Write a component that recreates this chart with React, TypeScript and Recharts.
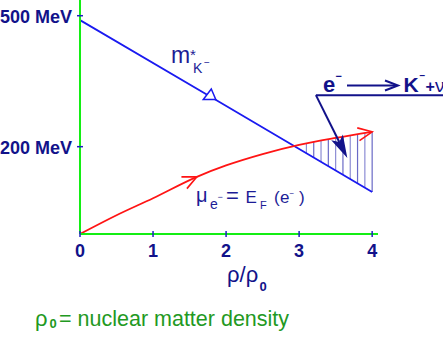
import { ComposedChart, Line, XAxis, YAxis, ReferenceLine, ReferenceDot } from 'recharts';

// density in units of rho_0
const densityX = [0, 0.5, 1, 1.6, 2, 2.5, 3, 3.5, 4];
const electronMu = [0, 43, 82, 131, 157, 183, 204, 220, 234];
const kaonX = [0, 1.77, 4];
const kaonMass = [490, 316, 96];

// hatched band between the two curves
const hatchX = [3.1, 3.2, 3.3, 3.4, 3.5, 3.6, 3.7, 3.8, 3.9, 4.0];
const hatchTop = [207, 211, 214, 217, 220, 223, 226, 228, 231, 234];
const hatchBottom = [185, 175, 165, 155, 145, 135, 126, 116, 106, 96];

const xTicks = [0, 1, 2, 3, 4];
const yTicks = [200, 500];
const yTickLabels = ['200 MeV', '500 MeV'];

// annotation pointer (rho/rho0, MeV)
const pointerFrom = [3.23, 318];
const pointerTo = [3.66, 174];
const underlineEndX = 4.97;

const GREEN = '#14ee14';
const NAVY = '#12128a';
const LABEL = '#1c1c96';
const BLUE = '#1a1af0';
const RED = '#ff1414';
const TICK = '#2020c0';
const HATCH = ['#8c8cd4', '#6a6ac6'];
const FONT = '"Liberation Sans", Arial, Helvetica, sans-serif';

const muData = densityX.map((x, i) => ({ x, v: electronMu[i] }));
const kaonData = kaonX.map((x, i) => ({ x, v: kaonMass[i] }));

const XTick = (p: any) => (
  <g>
    <line x1={p.x} x2={p.x} y1={p.y - 3} y2={p.y + 3} stroke={TICK} strokeWidth={1.5} />
    <text x={p.x} y={p.y + 22.5} textAnchor="middle" fontSize={18} fontWeight="bold" fill={NAVY} fontFamily={FONT}>
      {p.payload.value}
    </text>
  </g>
);

const YTick = (p: any) => (
  <g>
    <line x1={p.x - 3} x2={p.x + 3} y1={p.y} y2={p.y} stroke={TICK} strokeWidth={1.5} />
    <text x={p.x - 8} y={p.y + 7.5} textAnchor="end" fontSize={18} fontWeight="bold" fill={NAVY} fontFamily={FONT}>
      {yTickLabels[yTicks.indexOf(p.payload.value)]}
    </text>
  </g>
);

const chevron = (angle: number) => (p: any) => (
  <g transform={`translate(${p.cx},${p.cy}) rotate(${angle})`}>
    <polyline points="-14,-6.5 0,0 -14,6.5" fill="none" stroke={RED} strokeWidth={1.6} />
  </g>
);

const triangle = (p: any) => (
  <polygon
    points={`${p.cx + 2},${p.cy - 7} ${p.cx - 6},${p.cy + 3.5} ${p.cx + 6.5},${p.cy + 3.5}`}
    fill="#fff"
    stroke={BLUE}
    strokeWidth={1.5}
  />
);

const pointerShape = (p: any) => {
  const { x1, y1, x2, y2 } = p;
  const len = Math.hypot(x2 - x1, y2 - y1);
  const dx = (x2 - x1) / len;
  const dy = (y2 - y1) / len;
  const bx = x2 - dx * 23;
  const by = y2 - dy * 23;
  const nx = bx + dx * 5;
  const ny = by + dy * 5;
  return (
    <g>
      <line x1={x1} y1={y1} x2={nx} y2={ny} stroke={NAVY} strokeWidth={2} />
      <polygon
        points={`${x2},${y2} ${bx - dy * 6.5},${by + dx * 6.5} ${nx},${ny} ${bx + dy * 6.5},${by - dx * 6.5}`}
        fill={NAVY}
      />
    </g>
  );
};

const underlineShape = (p: any) => (
  <line x1={p.x1} y1={p.y1} x2={p.x2} y2={p.y2} stroke={NAVY} strokeWidth={2} />
);

export default function App() {
  return (
    <div style={{ position: 'absolute', left: 0, top: 0, width: 443, height: 339, background: '#fff', fontFamily: FONT }}>
      <ComposedChart width={443} height={339} margin={{ top: 0, right: 65, left: 0, bottom: 75 }}>
        <XAxis
          type="number"
          dataKey="x"
          domain={[0, 4.08]}
          ticks={xTicks}
          allowDataOverflow
          height={30}
          axisLine={{ stroke: GREEN, strokeWidth: 2 }}
          tickLine={false}
          tickSize={0}
          tickMargin={0}
          tick={XTick}
        />
        <YAxis
          type="number"
          domain={[0, 536]}
          ticks={yTicks}
          allowDataOverflow
          width={80}
          axisLine={{ stroke: GREEN, strokeWidth: 2 }}
          tickLine={false}
          tickSize={0}
          tickMargin={0}
          tick={YTick}
        />
        {hatchX.map((x, i) => (
          <ReferenceLine
            key={x}
            segment={[{ x, y: hatchBottom[i] }, { x, y: hatchTop[i] }]}
            stroke={HATCH[i % 2]}
            strokeWidth={1.2}
          />
        ))}
        <Line data={kaonData} dataKey="v" type="linear" stroke={BLUE} strokeWidth={1.8} dot={false} isAnimationActive={false} />
        <Line data={muData} dataKey="v" type="monotone" stroke={RED} strokeWidth={1.8} dot={false} isAnimationActive={false} />
        <ReferenceDot x={kaonX[1]} y={kaonMass[1]} shape={triangle} />
        <ReferenceDot x={densityX[3]} y={electronMu[3]} shape={chevron(-25)} />
        <ReferenceDot x={densityX[8]} y={electronMu[8]} shape={chevron(-10)} ifOverflow="visible" />
        <ReferenceLine
          segment={[{ x: pointerFrom[0], y: pointerFrom[1] }, { x: pointerTo[0], y: pointerTo[1] }]}
          shape={pointerShape}
          ifOverflow="visible"
        />
        <ReferenceLine
          segment={[{ x: pointerFrom[0], y: pointerFrom[1] }, { x: underlineEndX, y: pointerFrom[1] }]}
          shape={underlineShape}
          ifOverflow="visible"
        />
      </ComposedChart>
      <svg width={443} height={339} style={{ position: 'absolute', left: 0, top: 0, pointerEvents: 'none' }} fontFamily={FONT}>
        {/* kaon effective mass */}
        <text fill={LABEL}>
          <tspan x={171} y={63} fontSize={23}>m</tspan>
          <tspan x={190} y={60} fontSize={15}>*</tspan>
          <tspan x={193} y={73} fontSize={14}>K</tspan>
          <tspan x={204} y={66} fontSize={10}>−</tspan>
        </text>
        {/* electron chemical potential */}
        <text fill={LABEL}>
          <tspan x={196} y={202} fontSize={20}>μ</tspan>
          <tspan x={210} y={208.5} fontSize={14}>e</tspan>
          <tspan x={217.5} y={200} fontSize={9}>−</tspan>
          <tspan x={226} y={203} fontSize={22}>=</tspan>
          <tspan x={245.5} y={203} fontSize={17}>E</tspan>
          <tspan x={260} y={208.5} fontSize={11}>F</tspan>
          <tspan x={274} y={203} fontSize={17}>(</tspan>
          <tspan x={280} y={203} fontSize={17}>e</tspan>
          <tspan x={289.5} y={196} fontSize={8}>−</tspan>
          <tspan x={299} y={203} fontSize={17}>)</tspan>
        </text>
        {/* reaction */}
        <text fill={NAVY} fontWeight="bold">
          <tspan x={323} y={91.5} fontSize={22}>e</tspan>
          <tspan x={335.5} y={79.5} fontSize={11}>−</tspan>
          <tspan x={403.5} y={91.5} fontSize={21}>K</tspan>
          <tspan x={419.5} y={79} fontSize={10}>−</tspan>
          <tspan x={425.5} y={92} fontSize={16}>+</tspan>
        </text>
        <text x={435} y={91.5} fontSize={19} fill={NAVY}>ν</text>
        <line x1={347} y1={85.5} x2={397} y2={85.5} stroke={NAVY} strokeWidth={2} />
        <polyline points="385,80.5 398,85.5 385,90.5" fill="none" stroke={NAVY} strokeWidth={2} />
        {/* axis title */}
        <text fill={NAVY}>
          <tspan x={227} y={281.5} fontSize={22}>ρ/ρ</tspan>
          <tspan x={259.5} y={291} fontSize={13} fontWeight="bold">0</tspan>
        </text>
        {/* footnote */}
        <text fill="#229922">
          <tspan x={35} y={325.5} fontSize={22}>ρ</tspan>
          <tspan x={49.5} y={328} fontSize={13} fontWeight="bold">0</tspan>
          <tspan x={59} y={325.5} fontSize={21.5}>= nuclear matter density</tspan>
        </text>
      </svg>
    </div>
  );
}
